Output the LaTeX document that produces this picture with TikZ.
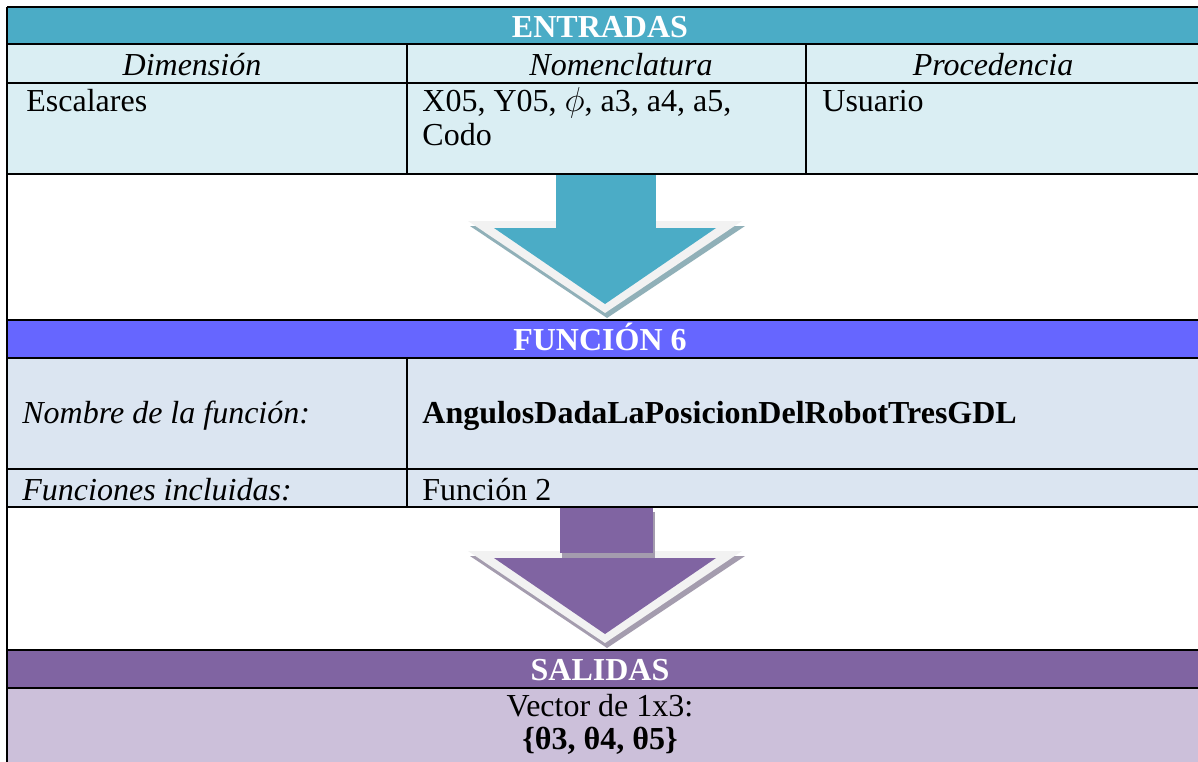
\documentclass[tikz,border=0pt]{standalone}
\usepackage{fontspec}
\setmainfont{Liberation Serif}
\definecolor{entblue}{HTML}{4BACC6}
\definecolor{entlight}{HTML}{DAEEF3}
\definecolor{funblue}{HTML}{6666FF}
\definecolor{funlight}{HTML}{DBE5F1}
\definecolor{salpurple}{HTML}{8064A2}
\definecolor{sallight}{HTML}{CCC0DA}
\definecolor{rimgray}{HTML}{F2F2F2}
\definecolor{shadblue}{HTML}{90B0B8}
\definecolor{shadpurple}{HTML}{A49CAE}
\tikzset{
  txt/.style={inner sep=0pt, font=\fontsize{16}{19}\selectfont},
  hdr/.style={txt, text=white, font=\fontsize{16}{19}\selectfont\bfseries, anchor=base},
  grid/.style={draw=black, line width=0.8pt},
}
\begin{document}
\begin{tikzpicture}[x=0.5pt,y=-0.5pt]
\useasboundingbox (0,0) rectangle (1198,761);
\clip (0,0) rectangle (1198,761);
% fills
\fill[entblue] (7,7) rectangle (1210,44);
\fill[entlight] (7,44) rectangle (1210,174);
\fill[funblue] (7,320) rectangle (1210,358);
\fill[funlight] (7,358) rectangle (1210,507);
\fill[salpurple] (7,650) rectangle (1210,688);
\fill[sallight] (7,688) rectangle (1210,770);
% arrow 1
\fill[shadblue] (470,226) -- (745,226) -- (607,318) -- cycle;
\fill[rimgray] (468,221) -- (742,221) -- (605,313) -- cycle;
\fill[entblue] (494,228) -- (716,228) -- (605,304) -- cycle;
\fill[entblue] (556,174) rectangle (656,228.5);
% arrow 2
\fill[shadpurple] (470,556) -- (745,556) -- (607,648) -- cycle;
\fill[rimgray] (468,551) -- (742,551) -- (605,643) -- cycle;
\fill[salpurple] (494,558) -- (716,558) -- (605,634) -- cycle;
\fill[shadpurple] (562,512) rectangle (655,558);
\fill[salpurple] (560,507) rectangle (653,553);
% grid lines
\draw[grid] (7,7) -- (1210,7);
\draw[grid] (7,7) -- (7,770);
\foreach \yy in {44,83,174,320,358,469,507,650,688}
  \draw[grid] (7,\yy) -- (1210,\yy);
\draw[grid] (407,44) -- (407,174);
\draw[grid] (806,44) -- (806,174);
\draw[grid] (407,358) -- (407,507);
% texts
\node[hdr] (ent) at (600,37) {ENTRADAS};
\node[txt, anchor=base] (dim) at (192,75) {\itshape Dimensión};
\node[txt, anchor=base] (nom) at (621,75) {\itshape Nomenclatura};
\node[txt, anchor=base] (pro) at (993,75) {\itshape Procedencia};
\node[txt, anchor=base west] (esc) at (26,111) {Escalares};
\node[txt, anchor=base west] (xv) at (422,111) {X05, Y05, $\phi$, a3, a4, a5,};
\node[txt, anchor=base west] (codo) at (422,145) {Codo};
\node[txt, anchor=base west] (usu) at (822,111) {Usuario};
\node[hdr] (fun) at (600,350) {FUNCIÓN 6};
\node[txt, anchor=base west] (nomf) at (22,423) {\itshape Nombre de la función:};
\node[txt, anchor=base west] (ang) at (422,423) {\bfseries AngulosDadaLaPosicionDelRobotTresGDL};
\node[txt, anchor=base west] (finc) at (22,500) {\itshape Funciones incluidas:};
\node[txt, anchor=base west] (f2) at (422,500) {Función 2};
\node[hdr] (sal) at (600,680) {SALIDAS};
\node[txt, anchor=base] (vec) at (600,716) {Vector de 1x3:};
\node[txt, anchor=base] (th) at (600,749) {\bfseries \{θ3, θ4, θ5\}};
\end{tikzpicture}
\end{document}
